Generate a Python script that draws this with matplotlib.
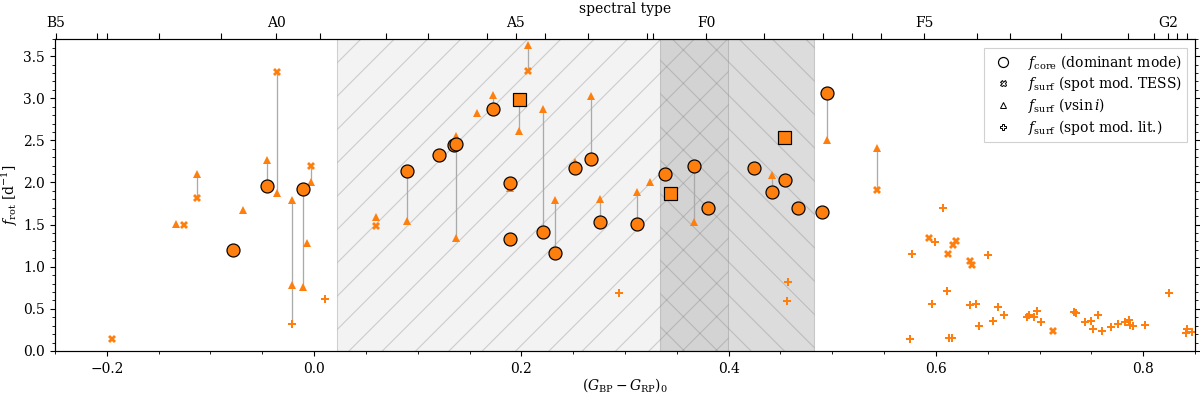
import matplotlib
matplotlib.use('Agg')
import matplotlib.pyplot as plt
from matplotlib.lines import Line2D
from matplotlib.ticker import MultipleLocator

# ---------------- data ----------------
core_x = [-0.0784, -0.0452, -0.0111, 0.0894, 0.1203, 0.1355, 0.1374, 0.1725, 0.1892, 0.1889,
          0.2208, 0.2324, 0.2514, 0.2671, 0.2758, 0.3119, 0.3390, 0.3667, 0.3799, 0.4246,
          0.4420, 0.4543, 0.4671, 0.4897, 0.4952]
core_y = [1.198, 1.953, 1.920, 2.139, 2.329, 2.450, 2.452, 2.874, 1.989, 1.329,
          1.408, 1.166, 2.171, 2.277, 1.530, 1.507, 2.104, 2.195, 1.696, 2.167,
          1.882, 2.025, 1.700, 1.649, 3.064]

square_x = [0.1973, 0.3438, 0.4536]
square_y = [2.989, 1.878, 2.539]

vsini_x = [-0.1330, -0.1126, -0.0684, -0.0452, -0.0356, -0.0208, -0.0208, -0.0111, -0.0066, -0.0027,
           0.0600, 0.0894, 0.1374, 0.1374, 0.1577, 0.1725, 0.1973, 0.2066, 0.1892, 0.2208,
           0.2324, 0.2514, 0.2671, 0.2758, 0.3119, 0.3238, 0.3667, 0.4420, 0.4952, 0.5428]
vsini_y = [1.510, 2.096, 1.669, 2.266, 1.870, 1.790, 0.787, 0.763, 1.285, 2.000,
           1.586, 1.546, 2.550, 1.337, 2.820, 3.037, 2.613, 3.638, 1.930, 2.867,
           1.795, 2.245, 3.028, 1.800, 1.886, 2.009, 1.534, 2.088, 2.503, 2.410]

tess_x = [-0.1950, -0.1258, -0.1126, -0.0356, -0.0027, 0.0600, 0.2066, 0.5428, 0.5934, 0.6190,
          0.6170, 0.6121, 0.6329, 0.6350, 0.7133]
tess_y = [0.139, 1.495, 1.810, 3.306, 2.195, 1.487, 3.318, 1.910, 1.340, 1.300,
          1.260, 1.154, 1.070, 1.016, 0.241]

lit_x = [-0.0208, 0.0101, 0.2939, 0.4572, 0.4565, 0.6065, 0.5990, 0.5770, 0.6505, 0.5747,
         0.5960, 0.6104, 0.6130, 0.6160, 0.6332, 0.6390, 0.6420, 0.6547, 0.6600, 0.6658,
         0.6875, 0.6894, 0.6950, 0.6980, 0.7016, 0.7336, 0.7350, 0.7435, 0.7500, 0.7563,
         0.7518, 0.7602, 0.7689, 0.7760, 0.7823, 0.7862, 0.7878, 0.7900, 0.8014, 0.8245,
         0.8409, 0.8425, 0.8467]
lit_y = [0.320, 0.613, 0.688, 0.815, 0.593, 1.700, 1.293, 1.150, 1.135, 0.142,
         0.554, 0.715, 0.150, 0.155, 0.542, 0.554, 0.300, 0.360, 0.526, 0.423,
         0.407, 0.427, 0.407, 0.478, 0.344, 0.463, 0.455, 0.344, 0.352, 0.431,
         0.265, 0.234, 0.281, 0.317, 0.340, 0.368, 0.305, 0.293, 0.312, 0.684,
         0.210, 0.257, 0.229]

# vertical connectors between measurements of the same star
link_x = [-0.1126, -0.0452, -0.0356, -0.0208, -0.0111, -0.0027, 0.0894, 0.1374, 0.1725, 0.1973,
          0.2066, 0.2208, 0.2324, 0.2671, 0.2758, 0.3119, 0.3667, 0.4420, 0.4952, 0.5428]
link_lo = [1.810, 1.953, 1.870, 0.320, 0.763, 2.000, 1.546, 1.337, 2.874, 2.613,
           3.318, 1.408, 1.166, 2.277, 1.530, 1.507, 1.534, 1.882, 2.503, 1.910]
link_hi = [2.096, 2.266, 3.306, 1.790, 1.920, 2.195, 2.139, 2.550, 3.037, 2.989,
           3.638, 2.867, 1.795, 3.028, 1.800, 1.886, 2.195, 2.088, 3.064, 2.410]

# shaded colour ranges
span1 = (0.0222, 0.3997)
span2 = (0.3338, 0.4826)

# spectral-type axis
sp_pos = [-0.2490, -0.2095, -0.1998, -0.1493, -0.0897, -0.0365, 0.0056, 0.0691, 0.1100, 0.1673,
          0.1947, 0.2227, 0.2640, 0.3213, 0.3273, 0.3783, 0.4346, 0.4910, 0.5190, 0.5467,
          0.5886, 0.6400, 0.6713, 0.7206, 0.7850, 0.8100, 0.8243, 0.8330, 0.8420]
sp_lab = ['B5', '', '', '', '', 'A0', '', '', '', '',
          'A5', '', '', '', '', 'F0', '', '', '', '',
          'F5', '', '', '', '', '', 'G2', '', '']

# ---------------- style ----------------
DPI = 100
def pt(px):
    """pixel size -> points at the output dpi"""
    return px * 72.0 / DPI

plt.rcParams.update({
    'font.family': ['DejaVu Serif'],
    'mathtext.fontset': 'dejavuserif',
    'font.size': pt(13.9),
    'axes.linewidth': pt(1.1),
    'xtick.major.size': pt(5), 'ytick.major.size': pt(5),
    'xtick.minor.size': pt(2.8), 'ytick.minor.size': pt(2.8),
    'xtick.major.width': pt(1.1), 'ytick.major.width': pt(1.1),
    'xtick.minor.width': pt(0.85), 'ytick.minor.width': pt(0.85),
    'xtick.major.pad': pt(6.5), 'ytick.major.pad': pt(4.9),
    'hatch.linewidth': pt(1.1),
    'legend.handlelength': 2.0,
})
orange = '#ff7f0e'

fig = plt.figure(figsize=(12.0, 3.93), dpi=DPI)
ax = fig.add_axes([0.0458, 0.107, 0.9500, 0.793])

ax.axvspan(*span1, facecolor=(0.5, 0.5, 0.5, 0.09), edgecolor=(0.5, 0.5, 0.5, 0.34),
           hatch='/', lw=pt(1.1), zorder=0)
ax.axvspan(*span2, facecolor=(0.5, 0.5, 0.5, 0.27), edgecolor=(0.5, 0.5, 0.5, 0.34),
           hatch='\\', lw=pt(1.1), zorder=0)

ax.vlines(link_x, link_lo, link_hi, color='#aaaaaa', lw=pt(1.3), zorder=1)

ax.plot(vsini_x, vsini_y, ls='none', marker='^', ms=pt(7.5), color=orange, mew=0, zorder=2)
ax.plot(tess_x, tess_y, ls='none', marker='X', ms=pt(7.5), color=orange, mew=0, zorder=2)
ax.plot(lit_x, lit_y, ls='none', marker='P', ms=pt(8), color=orange, mew=0, zorder=2)
ax.plot(core_x, core_y, ls='none', marker='o', ms=pt(13), mfc=orange, mec='black',
        mew=pt(1.2), zorder=3)
ax.plot(square_x, square_y, ls='none', marker='s', ms=pt(13), mfc=orange, mec='black',
        mew=pt(1.2), zorder=3)

ax.set_xlim(-0.25, 0.85)
ax.set_ylim(0, 3.7)
ax.xaxis.set_major_locator(MultipleLocator(0.2))
ax.xaxis.set_minor_locator(MultipleLocator(0.05))
ax.yaxis.set_major_locator(MultipleLocator(0.5))
ax.yaxis.set_minor_locator(MultipleLocator(0.1))
ax.tick_params(which='both', direction='out', right=True, top=False)
ax.set_xlabel(r'$(G_{\rm BP}-G_{\rm RP})_0$', labelpad=0)
ax.set_ylabel(r'$f_{\rm rot}$ [d$^{-1}$]', labelpad=pt(3))

ax2 = ax.twiny()
ax2.set_xlim(ax.get_xlim())
ax2.set_xticks(sp_pos)
ax2.set_xticklabels(sp_lab)
ax2.tick_params(direction='out', length=pt(6), width=pt(1.1), pad=pt(3))
ax2.set_xlabel('spectral type', labelpad=pt(3))

handles = [
    Line2D([], [], ls='none', marker='o', ms=pt(10), mfc='white', mec='black', mew=pt(1.2)),
    Line2D([], [], ls='none', marker='X', ms=pt(6), mfc='white', mec='black', mew=pt(1.0)),
    Line2D([], [], ls='none', marker='^', ms=pt(6), mfc='white', mec='black', mew=pt(1.0)),
    Line2D([], [], ls='none', marker='P', ms=pt(6), mfc='white', mec='black', mew=pt(1.0)),
]
labels = [r'$f_{\rm core}$ (dominant mode)', r'$f_{\rm surf}$ (spot mod. TESS)',
          r'$f_{\rm surf}$ ($v\sin i$)', r'$f_{\rm surf}$ (spot mod. lit.)']
leg = ax.legend(handles, labels, loc='upper right', frameon=True, fancybox=False,
                framealpha=0.9, edgecolor='#cccccc', borderaxespad=0.6,
                labelspacing=0.2, borderpad=0.35)
leg.get_frame().set_linewidth(pt(1.1))

fig.savefig('out.png', dpi=DPI)
